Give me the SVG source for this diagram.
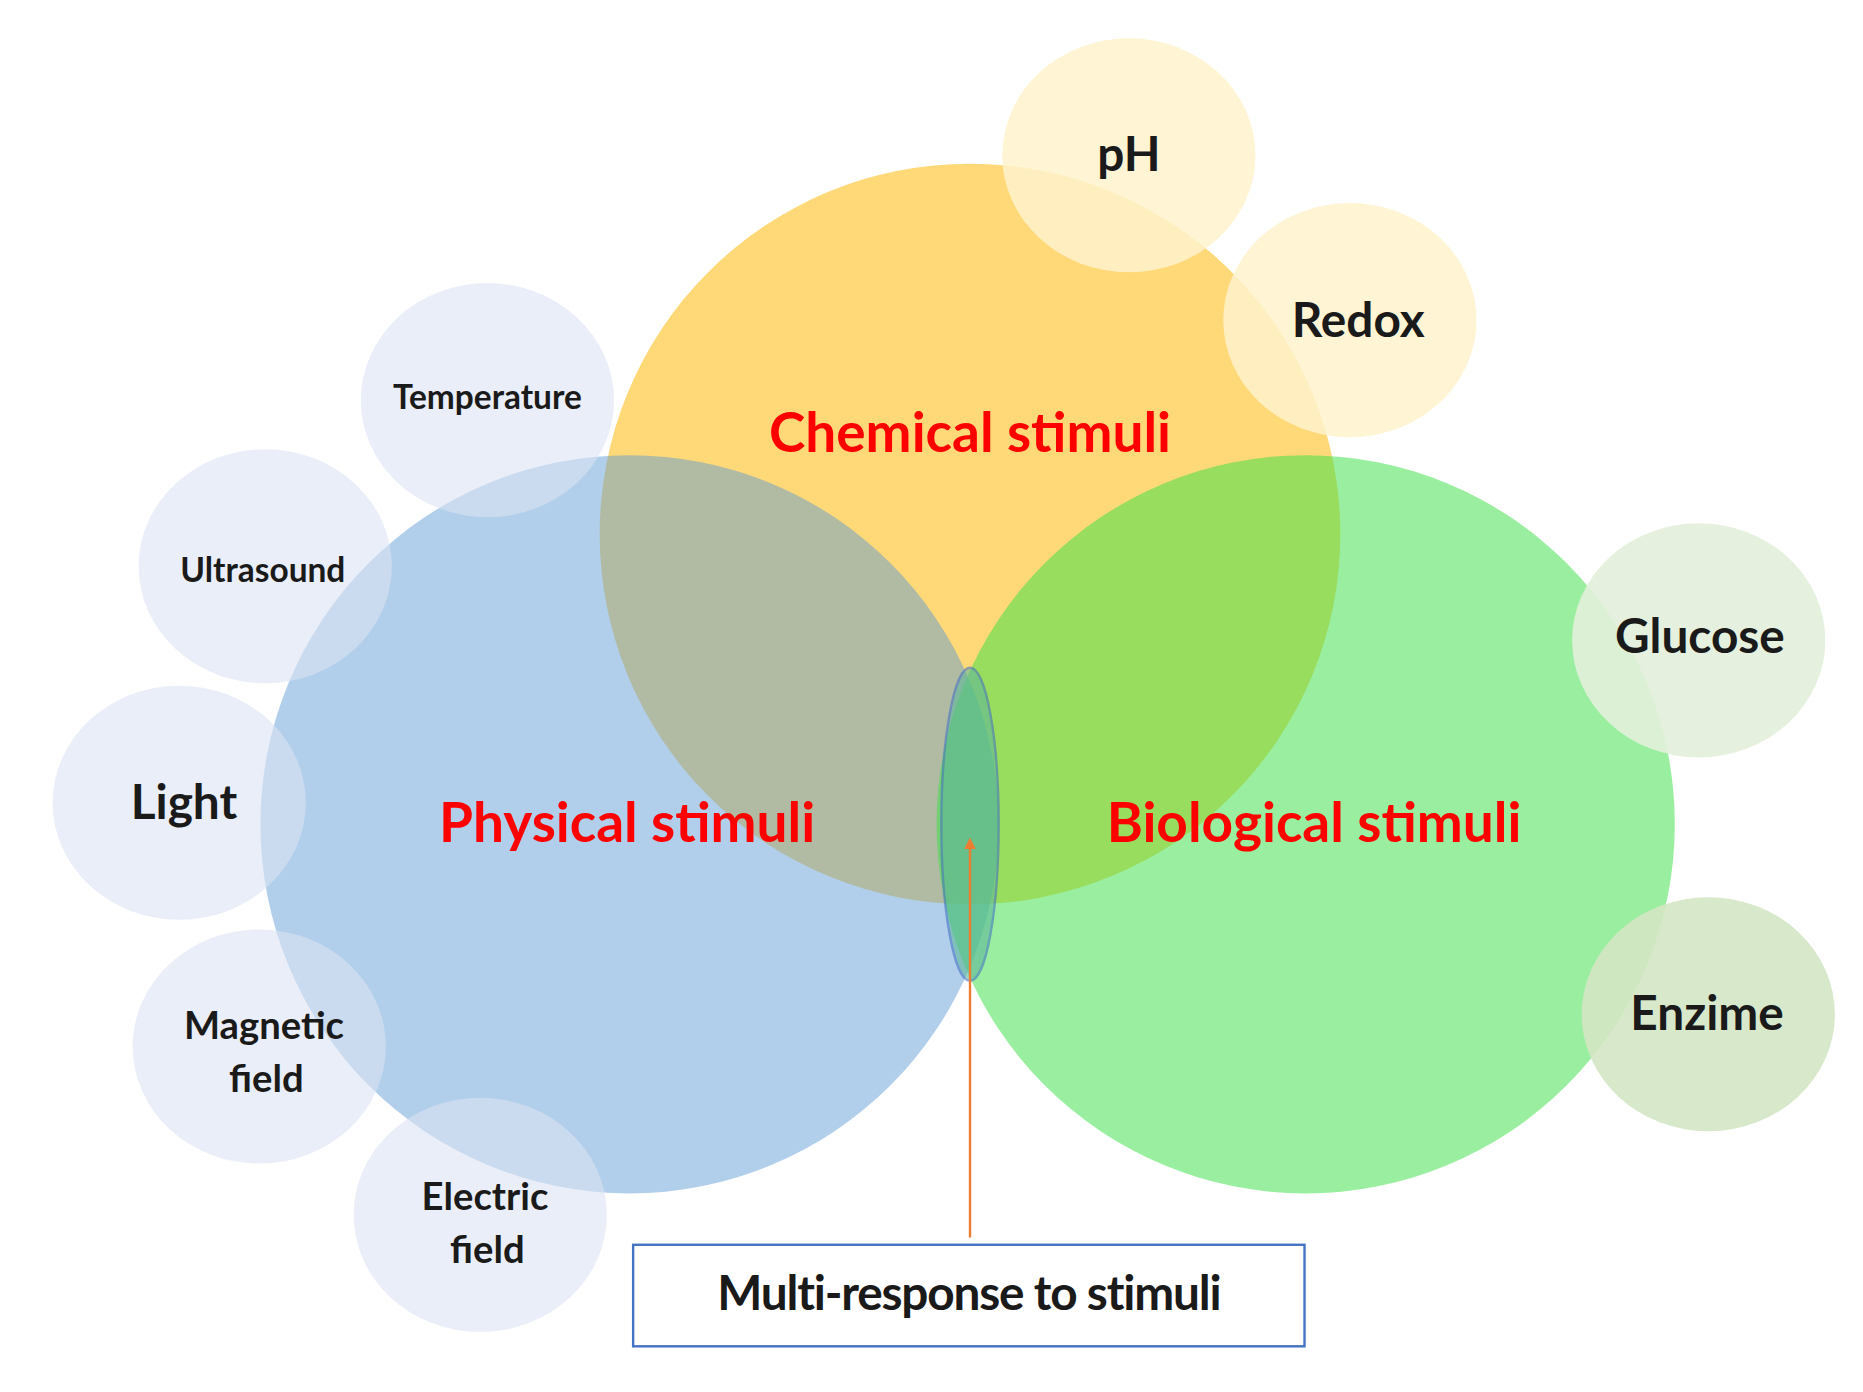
<svg xmlns="http://www.w3.org/2000/svg" width="1863" height="1392" viewBox="0 0 1863 1392">
<style>
text{font-family:Lato,"Open Sans","Liberation Sans",sans-serif;font-weight:bold;text-anchor:middle;fill:#1a1a1a}
.big{fill:#FF0000;font-size:46px}
.lb{font-size:40px}
.sm{font-size:28px}
.md{font-size:32px}
.bl{fill:#DAE3F3;opacity:.6}
.ye{fill:#FFF2CC;opacity:.85}
</style>
<defs><marker id="ah" markerWidth="10" markerHeight="10" refX="5" refY="5" orient="auto" markerUnits="userSpaceOnUse" viewBox="0 0 10 10"><path d="M0,0 L10,5 L0,10 z" fill="#ED7D31"/></marker></defs>
<rect width="1863" height="1392" fill="#fff"/>
<g transform="scale(1.1946)">
<g id="chemical"><circle cx="812" cy="447" r="310" fill="#FFD978"/></g>
<g id="physical"><circle cx="527" cy="690" r="309" fill="#5B9BD5" opacity=".48"/></g>
<g id="biological"><circle cx="1093" cy="690" r="309" fill="#3CE146" opacity=".52"/></g>
<g id="ph"><ellipse cx="945" cy="130" rx="106" ry="98" class="ye"/><text x="945" y="143" class="lb">pH</text></g>
<g id="redox"><ellipse cx="1130" cy="268" rx="106" ry="98" class="ye"/><text x="1137" y="282" class="lb">Redox</text></g>
<g id="temperature"><ellipse cx="408" cy="335" rx="106" ry="98" class="bl"/><text x="408" y="342" class="sm">Temperature</text></g>
<g id="ultrasound"><ellipse cx="222" cy="474" rx="106" ry="98" class="bl"/><text x="220" y="487" class="sm">Ultrasound</text></g>
<g id="light"><ellipse cx="150" cy="672" rx="106" ry="98" class="bl"/><text x="154" y="686" class="lb">Light</text></g>
<g id="magnetic"><ellipse cx="217" cy="876" rx="106" ry="98" class="bl"/><text x="221" y="870" class="md">Magnetic</text><text x="223" y="914" class="md">field</text></g>
<g id="electric"><ellipse cx="402" cy="1017" rx="106" ry="98" class="bl"/><text x="406" y="1013" class="md">Electric</text><text x="408" y="1057" class="md">field</text></g>
<g id="glucose"><ellipse cx="1422" cy="536" rx="106" ry="98" fill="#E2EFDA" opacity=".9"/><text x="1423" y="547" class="lb">Glucose</text></g>
<g id="enzime"><ellipse cx="1430" cy="849" rx="106" ry="98" fill="#D4E5C4" opacity=".9"/><text x="1429" y="862" class="lb">Enzime</text></g>
<text x="812" y="378" class="big">Chemical stimuli</text>
<text x="525" y="705" class="big">Physical stimuli</text>
<text x="1100" y="705" class="big">Biological stimuli</text>
<g id="multi"><ellipse cx="812" cy="690" rx="24" ry="131" fill="#5FB89A" opacity=".6" stroke="#4472C4" stroke-width="2"/></g>
<g id="connectors"><line x1="812" y1="1036" x2="812" y2="706" stroke="#ED7D31" stroke-width="2" marker-end="url(#ah)"/></g>
<g id="box"><rect x="530" y="1042" width="562" height="85" fill="#fff" stroke="#4472C4" stroke-width="2"/><text x="811" y="1097" class="lb" style="letter-spacing:-1px">Multi-response to stimuli</text></g>
</g>
</svg>
